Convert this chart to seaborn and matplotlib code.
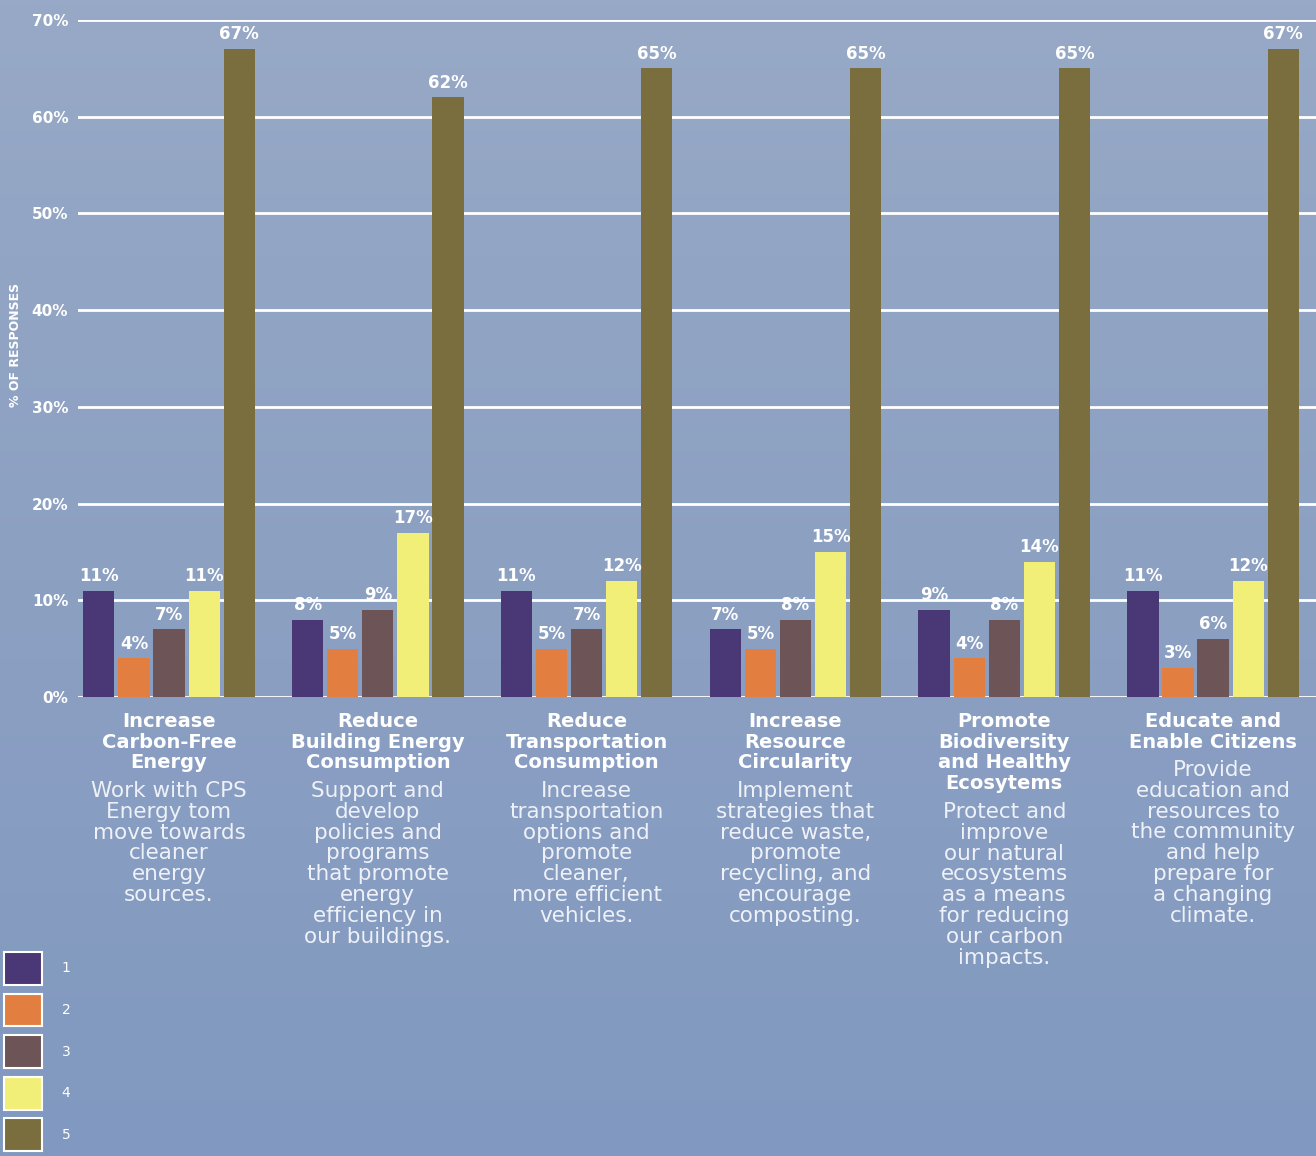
import numpy as np
import pandas as pd
import matplotlib
matplotlib.use("Agg")
import matplotlib.pyplot as plt
import seaborn as sns
from matplotlib.patches import Patch
from matplotlib.colors import LinearSegmentedColormap

# Data
categories = ["Carbon-Free", "Building", "Transportation", "Circularity", "Biodiversity", "Citizens"]
ratings = ["1", "2", "3", "4", "5"]
rating_1 = [11, 8, 11, 7, 9, 11]
rating_2 = [4, 5, 5, 5, 4, 3]
rating_3 = [7, 9, 7, 8, 8, 6]
rating_4 = [11, 17, 12, 15, 14, 12]
rating_5 = [67, 62, 65, 65, 65, 67]

titles = [
    "Increase\nCarbon-Free\nEnergy",
    "Reduce\nBuilding Energy\nConsumption",
    "Reduce\nTransportation\nConsumption",
    "Increase\nResource\nCircularity",
    "Promote\nBiodiversity\nand Healthy\nEcosytems",
    "Educate and\nEnable Citizens",
]
descriptions = [
    "Work with CPS\nEnergy tom\nmove towards\ncleaner\nenergy\nsources.",
    "Support and\ndevelop\npolicies and\nprograms\nthat promote\nenergy\nefficiency in\nour buildings.",
    "Increase\ntransportation\noptions and\npromote\ncleaner,\nmore efficient\nvehicles.",
    "Implement\nstrategies that\nreduce waste,\npromote\nrecycling, and\nencourage\ncomposting.",
    "Protect and\nimprove\nour natural\necosystems\nas a means\nfor reducing\nour carbon\nimpacts.",
    "Provide\neducation and\nresources to\nthe community\nand help\nprepare for\na changing\nclimate.",
]
yticks = [0, 10, 20, 30, 40, 50, 60, 70]

colors = ["#4a3776", "#e27f40", "#6c5457", "#f2ef78", "#7a6e3e"]

df = pd.DataFrame({
    "category": categories * 5,
    "rating": [r for r in ratings for _ in categories],
    "value": rating_1 + rating_2 + rating_3 + rating_4 + rating_5,
})

fig = plt.figure(figsize=(13.16, 11.56), dpi=100)

# Background gradient (scanned blue-grey page)
bg = fig.add_axes([0, 0, 1, 1], zorder=-10)
grad = np.linspace(0, 1, 256).reshape(-1, 1)
bg_cmap = LinearSegmentedColormap.from_list("bg", ["#97a9c6", "#8ca0c2", "#8199c0"])
bg.imshow(grad, aspect="auto", cmap=bg_cmap, extent=[0, 1, 0, 1])
bg.axis("off")

ax = fig.add_axes([78 / 1316, 1 - 697 / 1156, 1 - 78 / 1316, 677 / 1156])
ax.set_facecolor("none")

sns.barplot(
    data=df, x="category", y="value", hue="rating",
    palette=colors, width=0.84, gap=0.11, saturation=1,
    ax=ax, legend=False, zorder=3,
)

# Value labels
for cont in ax.containers:
    ax.bar_label(
        cont, labels=[f"{int(v)}%" for v in cont.datavalues],
        color="white", fontweight="bold", fontsize=12, padding=4,
    )

ax.set_ylim(0, 70)
ax.set_xlim(-0.436, 5.493)
ax.set_yticks(yticks)
ax.set_yticklabels([f"{t}%" for t in yticks], color="white", fontweight="bold", fontsize=11)
ax.tick_params(axis="y", length=0, pad=7)
ax.set_xticks([])
ax.set_xlabel("")
ax.set_ylabel("")
for s in ax.spines.values():
    s.set_visible(False)
ax.yaxis.grid(True, color="white", linewidth=2, zorder=0)
ax.set_axisbelow(True)

fig.text(16 / 1316, 1 - 345 / 1156, "% OF RESPONSES", rotation=90,
         color="white", fontweight="bold", fontsize=9, ha="center", va="center")

# Category titles and descriptions
line_px = 21
for i, (t, d) in enumerate(zip(titles, descriptions)):
    n = t.count("\n") + 1
    ax.annotate(t, xy=(i, 0), xycoords=("data", "axes fraction"),
                xytext=(0, -11), textcoords="offset points",
                ha="center", va="top", multialignment="center",
                color="white", fontweight="bold", fontsize=14, linespacing=1.1)
    off = (13 + n * line_px + 8) / 1.389
    ax.annotate(d, xy=(i, 0), xycoords=("data", "axes fraction"),
                xytext=(0, -off), textcoords="offset points",
                ha="center", va="top", multialignment="center",
                color="#eef1f8", fontsize=15.5, linespacing=1.05)

# Legend
handles = [Patch(facecolor=c, edgecolor="white", linewidth=1.5, label=r)
           for c, r in zip(colors, ratings)]
fig.legend(handles=handles, loc="upper left", bbox_to_anchor=(4 / 1316, 1 - 952 / 1156),
           frameon=False, fontsize=10, labelcolor="white",
           handlelength=2.75, handleheight=3.27, labelspacing=0.62,
           handletextpad=1.4, borderpad=0, borderaxespad=0)

fig.savefig("out.png", dpi=100)
